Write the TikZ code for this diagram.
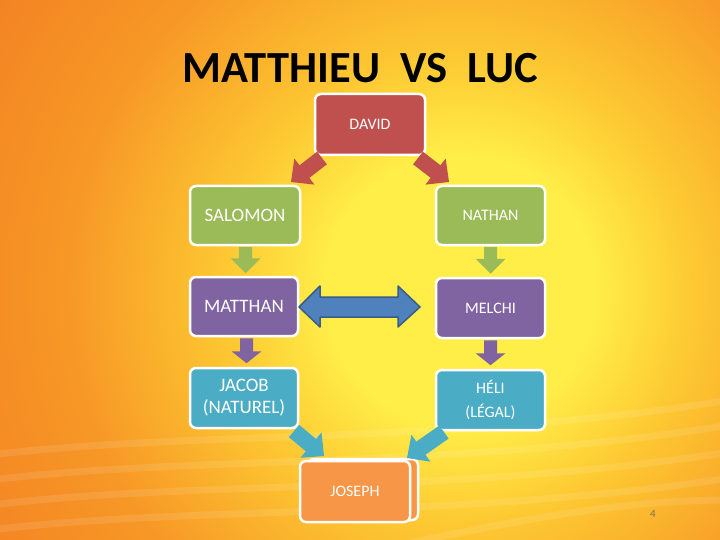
\documentclass[tikz,border=0pt]{standalone}
\usepackage{fontspec}
\setmainfont{Carlito}
\usetikzlibrary{calc}
\definecolor{bgY}{RGB}{255,238,72}
\definecolor{bgM}{RGB}{253,200,50}
\definecolor{bgO}{RGB}{247,152,38}
\definecolor{bgD}{RGB}{240,112,32}
\definecolor{cRed}{RGB}{192,80,77}
\definecolor{cGreen}{RGB}{155,187,89}
\definecolor{cPurple}{RGB}{128,100,162}
\definecolor{cBlue}{RGB}{75,172,198}
\definecolor{cOrange}{RGB}{247,150,70}
\definecolor{cArrow}{RGB}{79,129,189}
\definecolor{cArrowD}{RGB}{56,93,138}
\pgfdeclareradialshading{bgsh}{\pgfpoint{0bp}{0bp}}{color(0bp)=(bgY); color(6bp)=(bgY); color(10.5bp)=(bgM); color(17.5bp)=(bgO); color(31bp)=(bgD); color(50bp)=(bgD)}
% block arrow: style, tail, tip, shaft half, head half, head length
\newcommand\blockarr[6]{%
  \coordinate (tmpC) at ($(#3)!#6!(#2)$);
  \fill[#1] ($(#2)!#4!90:(#3)$) -- ($(tmpC)!#4!-90:(#2)$) -- ($(tmpC)!#5!-90:(#2)$)
    -- (#3) -- ($(tmpC)!#5!90:(#2)$) -- ($(tmpC)!#4!90:(#2)$) -- ($(#2)!#4!-90:(#3)$) -- cycle;}
\begin{document}
\begin{tikzpicture}[x=1pt,y=-1pt,
  box/.style={draw=white, line width=2.5pt, rounded corners=6pt, text=white,
    align=center, inner sep=0pt, minimum width=108pt, minimum height=59pt},
  big/.style={font=\fontsize{19}{22}\selectfont},
  small/.style={font=\fontsize{16}{24}\selectfont},
  stripe/.style={white, opacity=0.1, line width=7pt, line cap=round}]
\useasboundingbox (0,0) rectangle (720,540);
\begin{scope}
  \clip (0,0) rectangle (720,540);
  \fill[bgO] (0,0) rectangle (720,540);
  \shade[shading=bgsh] (460,290) circle (560);
  \draw[stripe] (-10,455) .. controls (200,430) and (450,445) .. (730,400);
  \draw[stripe] (-10,480) .. controls (200,455) and (450,470) .. (730,425);
  \draw[stripe] (-10,505) .. controls (200,480) and (450,495) .. (730,452);
  \draw[stripe] (-10,530) .. controls (200,505) and (450,520) .. (730,478);
  \draw[stripe] (400,545) .. controls (520,520) and (620,500) .. (730,500);
\end{scope}

\node[font=\bfseries\fontsize{44.5}{46}\selectfont] (title) at (360,68) {MATTHIEU\ \ VS\ \ LUC};

\node[box, small, fill=cRed, minimum width=110pt, minimum height=61pt] (david) at (370,124.5) {DAVID};
\node[box, big, fill=cGreen, minimum width=110pt] (salomon) at (245,215.5) {SALOMON};
\node[box, small, fill=cGreen, minimum width=109pt] (nathan) at (490.5,215.5) {NATHAN};
\node[box, big, fill=cPurple] (matthan) at (244,306.5) {MATTHAN};
\node[box, small, fill=cPurple, minimum width=109pt, minimum height=60pt] (melchi) at (490.5,308) {MELCHI};
\node[box, big, fill=cBlue, minimum height=60pt] (jacob) at (244,398) {JACOB\\(NATUREL)};
\node[box, small, fill=cBlue, minimum width=109pt, minimum height=60pt] (heli) at (490.5,400) {HÉLI\\(LÉGAL)};
\node[box, fill=cOrange, minimum width=110pt, minimum height=61pt] (josephback) at (363,489.5) {};
\node[box, small, fill=cOrange, minimum width=110pt, minimum height=61pt] (joseph) at (355,491.5) {JOSEPH};

% arrows
\coordinate (a1) at (322,158); \coordinate (b1) at (291,182);
\coordinate (a2) at (418,158); \coordinate (b2) at (449,182);
\blockarr{cRed}{a1}{b1}{8pt}{16.5pt}{17pt}
\blockarr{cRed}{a2}{b2}{8pt}{16.5pt}{17pt}

\coordinate (a3) at ($(salomon.south)+(0.5,0.5)$); \coordinate (b3) at ($(matthan.north)+(1.5,-2.5)$);
\coordinate (a4) at ($(nathan.south)+(0,0.5)$); \coordinate (b4) at ($(melchi.north)+(0,-3)$);
\blockarr{cGreen}{a3}{b3}{6.5pt}{15pt}{15pt}
\blockarr{cGreen}{a4}{b4}{6.5pt}{15pt}{15pt}

\coordinate (a5) at ($(matthan.south)+(2.5,1)$); \coordinate (b5) at ($(jacob.north)+(2.5,-3.5)$);
\coordinate (a6) at ($(melchi.south)+(0,1)$); \coordinate (b6) at ($(heli.north)+(0,-3.5)$);
\blockarr{cPurple}{a5}{b5}{6.5pt}{15pt}{12pt}
\blockarr{cPurple}{a6}{b6}{6.5pt}{15pt}{12pt}

\coordinate (a7) at (294,431); \coordinate (b7) at (324,456);
\coordinate (a8) at (444,432); \coordinate (b8) at (407,458);
\blockarr{cBlue}{a7}{b7}{8pt}{16.5pt}{17pt}
\blockarr{cBlue}{a8}{b8}{8pt}{16.5pt}{17pt}

% double arrow
\filldraw[fill=cArrow, draw=cArrowD, line width=1.5pt, line join=round]
  (299,307) -- (320,286) -- (320,297) -- (398,297) -- (398,286) -- (420,307)
  -- (398,327) -- (398,317) -- (320,317) -- (320,327) -- cycle;

\node[text={rgb,255:red,120;green,110;blue,100}, font=\fontsize{11}{13}\selectfont] (pnum) at (653,514) {4};
\end{tikzpicture}
\end{document}
